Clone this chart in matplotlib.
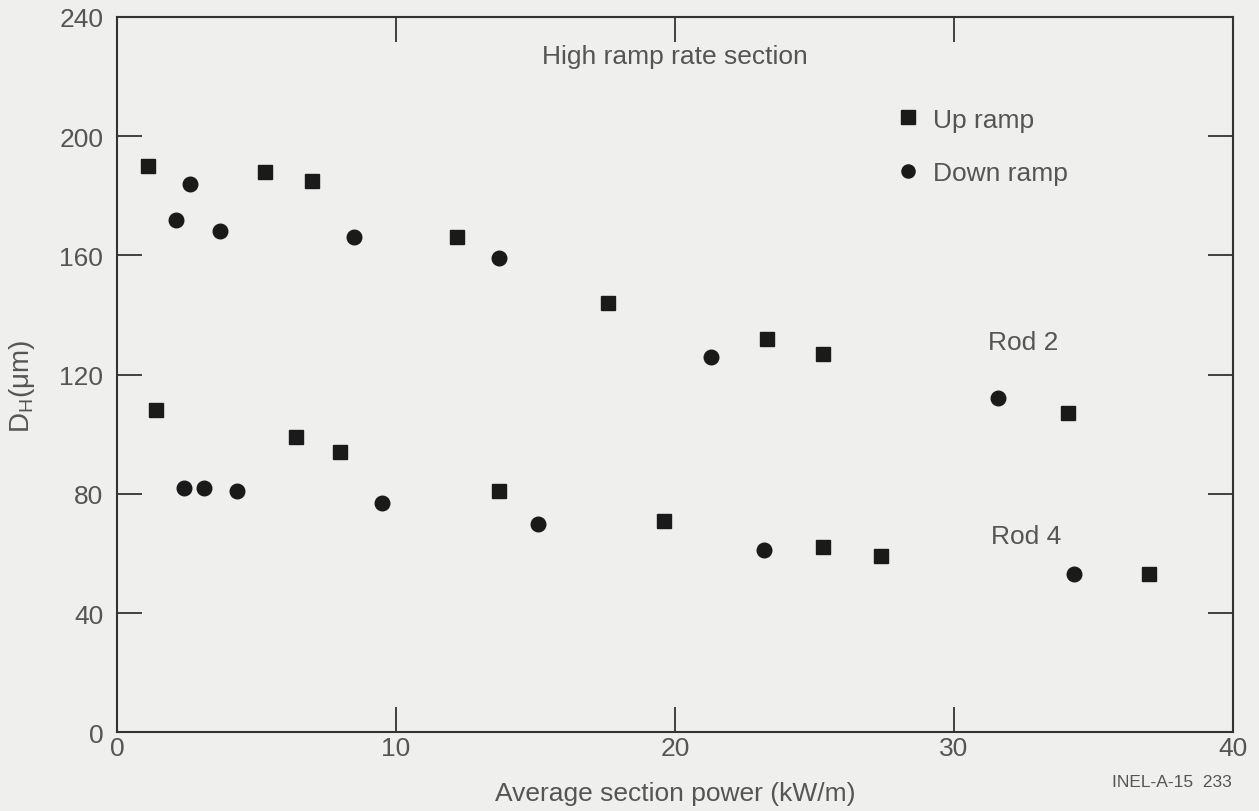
import matplotlib.pyplot as plt

plt.rcParams['font.family'] = ['Liberation Sans', 'DejaVu Sans']

# Up ramp (squares)
up_x = [1.1, 5.3, 7.0, 12.2, 17.6, 23.3, 25.3, 34.1,
        1.4, 6.4, 8.0, 13.7, 19.6, 25.3, 27.4, 37.0]
up_y = [190, 188, 185, 166, 144, 132, 127, 107,
        108, 99, 94, 81, 71, 62, 59, 53]

# Down ramp (circles)
down_x = [2.6, 2.1, 3.7, 8.5, 13.7, 21.3, 31.6,
          2.4, 3.1, 4.3, 9.5, 15.1, 23.2, 34.3]
down_y = [184, 172, 168, 166, 159, 126, 112,
          82, 82, 81, 77, 70, 61, 53]

x_ticks = [0, 10, 20, 30, 40]
y_ticks = [0, 40, 80, 120, 160, 200, 240]

ink = '#1a1a1a'
gray = '#555555'
bg = '#efefed'
fs = 19

fig = plt.figure(figsize=(12.59, 8.12), dpi=100, facecolor=bg)
ax = fig.add_axes([0.093, 0.097, 0.886, 0.881], facecolor=bg)

ax.plot(up_x, up_y, 's', color=ink, markersize=10.5, label='Up ramp')
ax.plot(down_x, down_y, 'o', color=ink, markersize=10.5, label='Down ramp')

ax.set_xlim(0, 40)
ax.set_ylim(0, 240)
ax.set_xticks(x_ticks)
ax.set_yticks(y_ticks)
ax.tick_params(direction='in', length=18, width=1.3, color='#333333',
               top=True, right=True, labelsize=fs, labelcolor=gray)
ax.tick_params(axis='x', pad=3)
ax.tick_params(axis='y', pad=10)
for s in ax.spines.values():
    s.set_linewidth(1.5)
    s.set_color('#333333')

ax.set_xlabel('Average section power (kW/m)', fontsize=fs, color=gray)
ax.xaxis.set_label_coords(0.5, -0.068)
ax.set_ylabel(r'D$_\mathregular{H}$(μm)', fontsize=fs + 1, color=gray)
ax.yaxis.set_label_coords(-0.0715, 0.485)

ax.text(20.0, 227, 'High ramp rate section', fontsize=fs, color=gray,
        ha='center', va='center')
ax.text(32.5, 131, 'Rod 2', fontsize=fs, color=gray, ha='center', va='center')
ax.text(32.6, 66, 'Rod 4', fontsize=fs, color=gray, ha='center', va='center')

ax.legend(loc='upper left', bbox_to_anchor=(0.688, 0.888), frameon=False,
          fontsize=fs, labelcolor=gray, handletextpad=0.45, labelspacing=1.12,
          handlelength=1.0, markerscale=0.9, borderaxespad=0)

fig.text(0.978, 0.036, 'INEL-A-15  233', fontsize=12.5, color=gray,
         ha='right', va='center')

fig.savefig('out.png', dpi=100, facecolor=bg)
